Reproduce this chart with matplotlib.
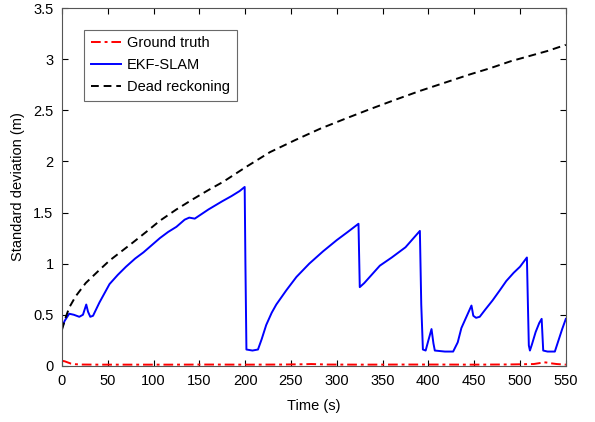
import numpy as np
import matplotlib.pyplot as plt

plt.rcParams['font.family'] = ['Liberation Sans', 'DejaVu Sans']

# dead reckoning std
t_dr = [0, 4, 8, 15, 26, 40, 52, 65, 78, 92, 107, 125, 143, 160, 176, 200, 227, 255,
        282, 310, 336, 363, 391, 418, 445, 467, 490, 510, 530, 550]
s_dr = [0.35, 0.47, 0.57, 0.68, 0.81, 0.93, 1.03, 1.12, 1.21, 1.31, 1.42, 1.53, 1.63,
        1.72, 1.80, 1.94, 2.09, 2.21, 2.32, 2.42, 2.51, 2.60, 2.69, 2.77, 2.85, 2.91,
        2.98, 3.03, 3.08, 3.14]

# EKF-SLAM std
t_ekf = [0, 3, 8, 13, 19, 23, 26.6, 28.5, 31, 34, 41, 52, 61, 70, 80, 89, 98, 107,
         116, 125, 134, 139, 145, 160, 175, 185, 194, 199.5, 200.3, 201.4, 208, 214,
         218, 223, 229, 234, 245, 256, 270, 285, 300, 312, 323.7, 325.1, 330, 338, 347,
         360, 375, 390.7, 392.2, 394, 397, 400, 403.4, 405.5, 407, 418, 427, 432, 436,
         441, 447, 449, 452, 456, 462, 470, 478, 485, 493, 500, 507.5, 508.6, 509.6,
         510.8, 513, 517, 521, 523.6, 525.3, 530, 538, 542, 546, 550]
s_ekf = [0.37, 0.44, 0.51, 0.50, 0.48, 0.50, 0.60, 0.53, 0.48, 0.49, 0.62, 0.80, 0.89,
         0.97, 1.05, 1.11, 1.18, 1.25, 1.31, 1.36, 1.43, 1.45, 1.44, 1.53, 1.61, 1.66,
         1.71, 1.75, 1.00, 0.16, 0.15, 0.16, 0.26, 0.40, 0.52, 0.60, 0.74, 0.87, 1.00,
         1.12, 1.23, 1.31, 1.39, 0.77, 0.81, 0.89, 0.98, 1.06, 1.16, 1.32, 0.60, 0.16,
         0.15, 0.25, 0.36, 0.22, 0.15, 0.14, 0.14, 0.23, 0.37, 0.47, 0.59, 0.49, 0.47,
         0.48, 0.55, 0.64, 0.74, 0.83, 0.91, 0.97, 1.06, 0.60, 0.20, 0.15, 0.21, 0.33,
         0.42, 0.46, 0.15, 0.14, 0.14, 0.25, 0.36, 0.46]

# ground truth std
t_gt = [0, 3, 6, 10, 15, 22, 40, 80, 120, 160, 200, 240, 265, 272, 290, 330, 370,
        410, 450, 490, 515, 522, 528, 533, 540, 550]
s_gt = [0.05, 0.045, 0.035, 0.022, 0.016, 0.013, 0.012, 0.012, 0.012, 0.013, 0.012,
        0.013, 0.016, 0.018, 0.013, 0.012, 0.013, 0.013, 0.012, 0.014, 0.018, 0.028,
        0.034, 0.026, 0.018, 0.012]

fig = plt.figure(figsize=(5.95, 4.22), dpi=100)
ax = fig.add_axes([0.104, 0.133, 0.847, 0.848])

ax.plot(t_gt, s_gt, color='#ff0000', linestyle=(0, (5, 2, 1.5, 2)), linewidth=1.4, label='Ground truth')
ax.plot(t_ekf, s_ekf, color='#0000ff', linestyle='-', linewidth=1.4, label='EKF-SLAM')
ax.plot(t_dr, s_dr, color='black', linestyle=(0, (4, 2.5)), linewidth=1.4, label='Dead reckoning')

ax.set_xlim(0, 550)
ax.set_ylim(0, 3.5)
ax.set_xticks(np.arange(0, 551, 50))
ax.set_yticks(np.arange(0, 3.51, 0.5))
ax.set_yticklabels(['0', '0.5', '1', '1.5', '2', '2.5', '3', '3.5'])
ax.tick_params(direction='in', length=4, top=True, right=True, labelsize=10.5,
               colors='black', pad=6)
for sp in ax.spines.values():
    sp.set_color('#555555')
    sp.set_linewidth(0.8)

ax.set_xlabel('Time (s)', fontsize=10.5, labelpad=8)
ax.set_ylabel('Standard deviation (m)', fontsize=10.5, labelpad=6)

leg = ax.legend(loc='upper left', bbox_to_anchor=(0.044, 0.939), borderaxespad=0,
                fontsize=10.5, frameon=True, fancybox=False, edgecolor='#444444',
                handlelength=2.05, borderpad=0.45, labelspacing=0.55, handletextpad=0.45)
leg.get_frame().set_linewidth(0.8)

fig.savefig('out.png', dpi=100)
